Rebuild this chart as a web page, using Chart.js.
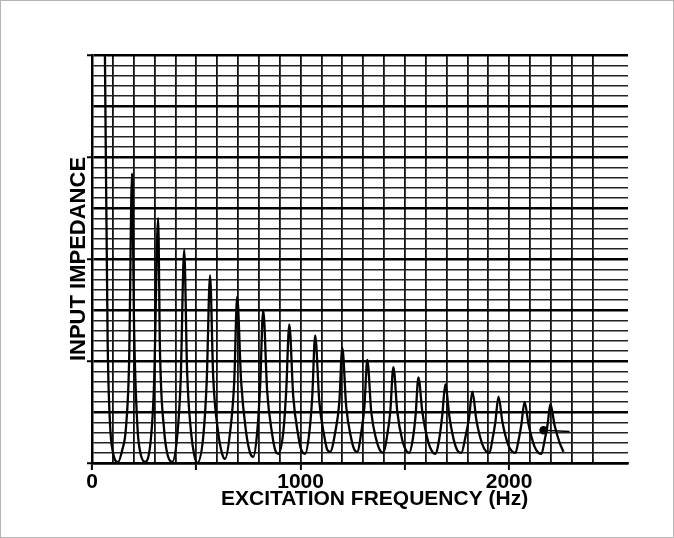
<!DOCTYPE html>
<html>
<head>
<meta charset="utf-8">
<script src="https://cdn.jsdelivr.net/npm/chart.js@4/dist/chart.umd.min.js"></script>
<style>
  body { margin: 0; background: #fff; }
  #wrap { position: relative; width: 674px; height: 538px; }
  #frame { position: absolute; left: 0; top: 0; width: 674px; height: 538px; box-sizing: border-box; border: 1px solid #b5b5b5; pointer-events: none; }
</style>
</head>
<body>
<div id="wrap">
  <canvas id="chart" width="674" height="538"></canvas>
  <div id="frame"></div>
</div>
<script>
// Recorder trace (frequency in Hz, impedance in grid units 0-40)
const freqHz = [
    62, 75, 86, 101, 125,
    144, 163, 178, 192, 202, 218, 230, 254,
    283, 298, 317, 326, 346, 360, 384,
    408, 425, 442, 456, 475, 490, 504,
    533, 550, 566, 581, 605, 624, 638,
    662, 682, 696, 715, 739, 758, 773,
    792, 806, 821, 840, 864, 878, 893,
    917, 931, 946, 965, 989, 1003, 1022,
    1042, 1056, 1070, 1090, 1114, 1128, 1142,
    1166, 1186, 1200, 1219, 1243, 1258, 1272,
    1291, 1306, 1320, 1339, 1363, 1382, 1397,
    1416, 1430, 1445, 1464, 1488, 1507, 1521,
    1540, 1552, 1565, 1584, 1613, 1632, 1646,
    1666, 1680, 1694, 1714, 1738, 1757, 1771,
    1790, 1807, 1824, 1843, 1872, 1891, 1906,
    1920, 1934, 1949, 1968, 1997, 2016, 2030,
    2045, 2059, 2074, 2093, 2122, 2141, 2155,
    2170, 2184, 2198, 2218, 2242, 2261
];
const impedance = [
    40, 12, 4, 1, 0.1,
    1.2, 3.5, 10, 28.4, 13, 3.5, 1.2, 0.1,
    2.5, 8, 24.0, 11, 3.2, 1, 0.1,
    2.5, 8, 20.9, 9, 3, 0.8, 0,
    2.5, 8, 18.4, 8.5, 3, 0.9, 0.4,
    3, 8, 16.3, 8, 3, 1, 0.6,
    3, 7.5, 15.0, 7, 2.8, 1.3, 0.9,
    3, 7, 13.6, 6.5, 2.7, 1.3, 0.9,
    3, 6.5, 12.5, 6, 2.6, 1.3, 1.1,
    3, 6, 11.3, 5.5, 2.4, 1.3, 1.1,
    3, 5.5, 10.1, 5, 2.3, 1.2, 1.0,
    2.8, 5, 9.4, 5, 2.2, 1.2, 1.0,
    2.6, 4.8, 8.4, 5, 2, 1.1, 0.9,
    2.5, 4.8, 7.7, 4.5, 2, 1.1, 1.0,
    2.5, 4.3, 7.0, 4.2, 1.8, 1.1, 1.0,
    2.3, 4, 6.5, 4, 1.7, 1.1, 1.0,
    2.2, 3.8, 6.0, 3.8, 1.6, 1.0, 0.9,
    2.2, 3.7, 5.8, 3.7, 2, 1.1
];

// Pen mark near the end of the sweep
const markHz = [2165, 2290];
const markImp = [3.2, 3.1];

// Axis labelling
const xTickLabels = { 0: '0', 1000: '1000', 2000: '2000' };
const xTitle = '     EXCITATION FREQUENCY (Hz)';
const yTitle = 'INPUT IMPEDANCE';

const FONT = 'Liberation Sans, Arial, sans-serif';

const traceData = freqHz.map((f, i) => ({ x: f, y: impedance[i] }));
const markData = markHz.map((f, i) => ({ x: f, y: markImp[i] }));

const ctx = document.getElementById('chart').getContext('2d');
new Chart(ctx, {
    type: 'line',
    data: {
        datasets: [
            {
                data: traceData,
                borderColor: '#000',
                borderWidth: 2.3,
                pointRadius: 0,
                cubicInterpolationMode: 'monotone',
                fill: false
            },
            {
                data: markData,
                borderColor: '#000',
                backgroundColor: '#000',
                borderWidth: 1.5,
                pointRadius: [3.5, 0],
                fill: false
            }
        ]
    },
    options: {
        responsive: false,
        animation: false,
        devicePixelRatio: 1,
        layout: { padding: { left: 0, right: 46, top: 55, bottom: 0 } },
        plugins: {
            legend: { display: false },
            tooltip: { enabled: false }
        },
        scales: {
            x: {
                type: 'linear',
                min: 0,
                max: 2570,
                border: { display: true, color: '#000', width: 2.5 },
                grid: {
                    color: (c) => (c.tick && c.tick.value > 2500 ? 'rgba(0,0,0,0)' : '#111'),
                    lineWidth: 1.8,
                    drawTicks: true,
                    tickLength: 7,
                    tickColor: (c) => (c.tick && c.tick.value % 500 === 0 && c.tick.value <= 2500 ? '#000' : 'rgba(0,0,0,0)'),
                    tickWidth: 2
                },
                ticks: {
                    stepSize: 100,
                    autoSkip: false,
                    maxRotation: 0,
                    padding: 0,
                    color: '#000',
                    font: { family: FONT, size: 21, weight: 'bold' },
                    callback: (v) => (xTickLabels[v] !== undefined ? xTickLabels[v] : '')
                },
                title: {
                    display: true,
                    text: xTitle,
                    color: '#000',
                    font: { family: FONT, size: 21, weight: 'bold' },
                    padding: { top: 0, bottom: 26 }
                },
                afterFit: (scale) => { scale.height = 75; }
            },
            y: {
                type: 'linear',
                min: 0,
                max: 40,
                border: { display: true, color: '#000', width: 2.5 },
                grid: {
                    color: (c) => (c.tick && c.tick.value % 5 === 0 ? '#000' : '#222'),
                    lineWidth: (c) => (c.tick && c.tick.value % 5 === 0 ? 2.5 : 1.4),
                    drawTicks: true,
                    tickLength: 5,
                    tickColor: (c) => (c.tick && c.tick.value % 10 === 0 ? '#000' : 'rgba(0,0,0,0)'),
                    tickWidth: 2
                },
                ticks: {
                    stepSize: 1,
                    autoSkip: false,
                    display: false
                },
                title: {
                    display: true,
                    text: yTitle,
                    color: '#000',
                    font: { family: FONT, size: 22, weight: 'bold' },
                    padding: { top: 66, bottom: 0 }
                },
                afterFit: (scale) => { scale.width = 92; }
            }
        }
    }
});
</script>
</body>
</html>
